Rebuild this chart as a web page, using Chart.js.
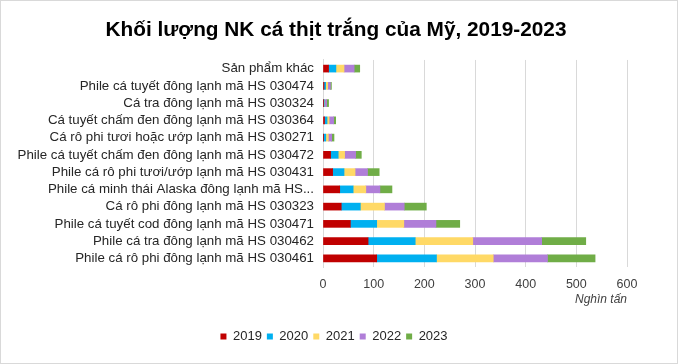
<!DOCTYPE html>
<html>
<head>
<meta charset="utf-8">
<script src="https://cdn.jsdelivr.net/npm/chart.js@4"></script>
<style>
  html, body { margin: 0; padding: 0; background: #fff; }
  #wrap { position: relative; width: 678px; height: 364px; box-sizing: border-box; border: 1px solid #d9d9d9; }
  canvas { position: absolute; left: 0; top: 0; }
</style>
</head>
<body>
<div id="wrap"><canvas id="chart" width="678" height="364"></canvas></div>
<script>
const categories = [
  'Sản phẩm khác',
  'Phile cá tuyết đông lạnh mã HS 030474',
  'Cá tra đông lạnh mã HS 030324',
  'Cá tuyết chấm đen đông lạnh mã HS 030364',
  'Cá rô phi tươi hoặc ướp lạnh mã HS 030271',
  'Phile cá tuyết chấm đen đông lạnh mã HS 030472',
  'Phile cá rô phi tươi/ướp lạnh mã HS 030431',
  'Phile cá minh thái Alaska đông lạnh mã HS...',
  'Cá rô phi đông lạnh mã HS 030323',
  'Phile cá tuyết cod đông lạnh mã HS 030471',
  'Phile cá tra đông lạnh mã HS 030462',
  'Phile cá rô phi đông lạnh mã HS 030461'
];

const years = ['2019', '2020', '2021', '2022', '2023'];

const v2019 = [11, 2, 0.5, 3, 0.5, 15, 19, 33, 36, 54, 89, 106];
const v2020 = [14.5, 3.3, 2, 5, 5, 15, 22.5, 26.5, 37.7, 52, 93, 118];
const v2021 = [16, 4, 0.5, 4, 5, 12.6, 21.8, 25, 47.6, 53.5, 113.6, 112];
const v2022 = [20, 5.3, 4, 9, 6.6, 21.8, 24.5, 27.8, 39, 63.4, 136, 107];
const v2023 = [11, 2, 4, 4, 4.6, 11.2, 23.1, 23.8, 43.6, 47, 87, 94];

const xTicks = [0, 100, 200, 300, 400, 500, 600];
const colors = ['#C00000', '#00B0F0', '#FFD966', '#B07ED8', '#70AD47'];

const series = [v2019, v2020, v2021, v2022, v2023];
const font = 'Liberation Sans, Arial';

// title and legend are centred on the whole picture in the original, not on the padded box
const centreShift = {
  id: 'centreShift',
  afterLayout(chart) {
    if (chart.titleBlock) { chart.titleBlock.left += 17; chart.titleBlock.right += 17; }
    if (chart.legend) { chart.legend.left += 15; chart.legend.right += 15; }
  }
};

new Chart(document.getElementById('chart').getContext('2d'), {
  type: 'bar',
  data: {
    labels: categories,
    datasets: series.map((values, i) => ({
      label: years[i],
      data: values,
      backgroundColor: colors[i],
      borderWidth: 0,
      barThickness: 7
    }))
  },
  plugins: [centreShift],
  options: {
    indexAxis: 'y',
    responsive: false,
    animation: false,
    layout: { padding: { left: 10, right: 52, top: 0, bottom: 12 } },
    plugins: {
      title: {
        display: true,
        text: 'Khối lượng NK cá thịt trắng của Mỹ, 2019-2023',
        color: '#000',
        font: { family: font, size: 20.8, weight: 'bold' },
        padding: { top: 17, bottom: 17 }
      },
      legend: {
        position: 'bottom',
        labels: {
          color: '#262626',
          font: { family: font, size: 13 },
          boxWidth: 6,
          boxHeight: 6,
          padding: 5
        }
      },
      tooltip: { enabled: false }
    },
    scales: {
      x: {
        stacked: true,
        min: 0,
        max: 600,
        afterBuildTicks: scale => { scale.ticks = xTicks.map(v => ({ value: v })); },
        afterFit: scale => { scale.height = 58; },
        grid: { color: '#d9d9d9', drawTicks: false },
        border: { display: false },
        ticks: {
          color: '#404040',
          font: { family: font, size: 12.5 },
          padding: 10
        },
        title: {
          display: true,
          text: 'Nghìn tấn',
          align: 'end',
          color: '#404040',
          font: { family: font, size: 12, style: 'italic' },
          padding: { top: 0, bottom: 18 }
        }
      },
      y: {
        stacked: true,
        grid: { display: false, drawTicks: false },
        border: { display: true, color: '#d9d9d9' },
        afterFit: scale => { scale.width = 312; },
        ticks: {
          color: '#262626',
          font: { family: font, size: 13.3 },
          padding: 9,
          autoSkip: false
        }
      }
    }
  }
});
</script>
</body>
</html>
